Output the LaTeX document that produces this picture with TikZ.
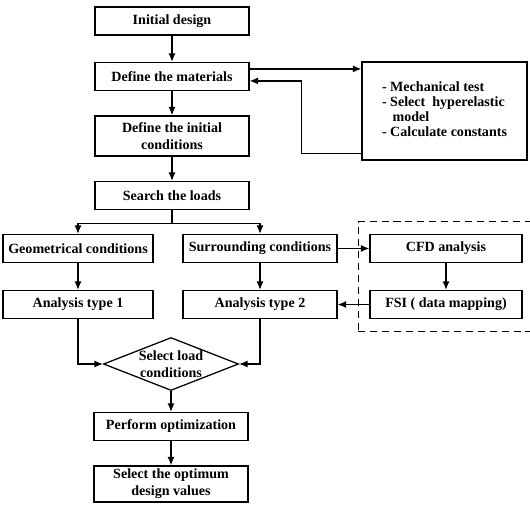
\documentclass[tikz,border=0pt]{standalone}
\usepackage{fontspec}
\setmainfont{Liberation Serif}
\usetikzlibrary{positioning,fit,arrows.meta,shapes.geometric}

\begin{document}
\begin{tikzpicture}[
  x=0.025cm, y=-0.025cm,
  font=\bfseries\fontsize{10}{12}\selectfont,
  line width=0.9pt,
  >={Latex[length=6pt,width=5pt]},
  box/.style={rectangle, draw, align=center, inner sep=2pt,
              minimum width=3.85cm, minimum height=0.7cm},
  dec/.style={diamond, draw, inner sep=0pt, minimum width=3.375cm,
              minimum height=1.325cm},
  arr/.style={->},
]
\useasboundingbox (0,0) rectangle (530,505);

\node[box] (ID) at (172,21) {Initial design};
\node[box] (DM) at (172,76.5) {Define the materials};
\node[box, minimum height=1cm] (DI) at (172,136) {Define the initial\\conditions};
\node[box] (SL) at (172,195.5) {Search the loads};

\node[box, minimum width=4.125cm, minimum height=2.45cm] (MT) at (444.5,111)
  {\renewcommand{\arraystretch}{0.88}%
   \begin{tabular}{@{}l@{}}
   - Mechanical test\\
   - Select\ \ hyperelastic\\
   \hspace*{0.75em}model\\
   - Calculate constants
   \end{tabular}};

\node[box, minimum width=3.75cm] (GC) at (78,248.5) {Geometrical conditions};
\node[box] (SC) at (260,248.5) {Surrounding conditions};
\node[box, minimum width=3.8cm] (CFD) at (446,248.5) {CFD analysis};
\node[box, minimum width=3.75cm] (A1) at (78,304.5) {Analysis type 1};
\node[box] (A2) at (260,304.5) {Analysis type 2};
\node[box, minimum width=3.8cm] (FSI) at (446,304.5) {FSI ( data mapping)};

\node[draw, dashed, dash pattern=on 5pt off 3.5pt, fit=(CFD)(FSI),
      inner xsep=0.28cm, inner ysep=0.3cm] (FB) {};

\node[dec, label={[align=center]center:Select load\\conditions}] (SLC) at (171,364) {};
\node[box] (PO) at (171,426.5) {Perform optimization};
\node[box, minimum height=0.9cm] (SO) at (171,484) {Select the optimum\\design values};

\draw[arr] (ID) -- (DM);
\draw[arr] (DM) -- (DI);
\draw[arr] (DI) -- (SL);
\coordinate (DMout) at ([yshift=0.19cm]DM.east);
\draw[arr] (DMout) -- (DMout -| MT.west);
\draw[arr] ([yshift=0.18cm]MT.south west) -- ++(-60,0) |- ([yshift=-0.11cm]DM.east);

\draw[arr] (SL.south) -- ++(0,13) -| (GC.north);
\draw[arr] (SL.south) -- ++(0,13) -| (SC.north);
\draw[arr] (GC) -- (A1);
\draw[arr] (SC) -- (A2);
\draw[arr] (SC) -- (CFD);
\draw[arr] (CFD) -- (FSI);
\draw[arr] (FSI) -- (A2);

\draw[arr] (A1.south) |- (SLC.west);
\draw[arr] (A2.south) |- (SLC.east);
\draw[arr] (SLC) -- (PO);
\draw[arr] (PO) -- (SO);

\end{tikzpicture}
\end{document}
